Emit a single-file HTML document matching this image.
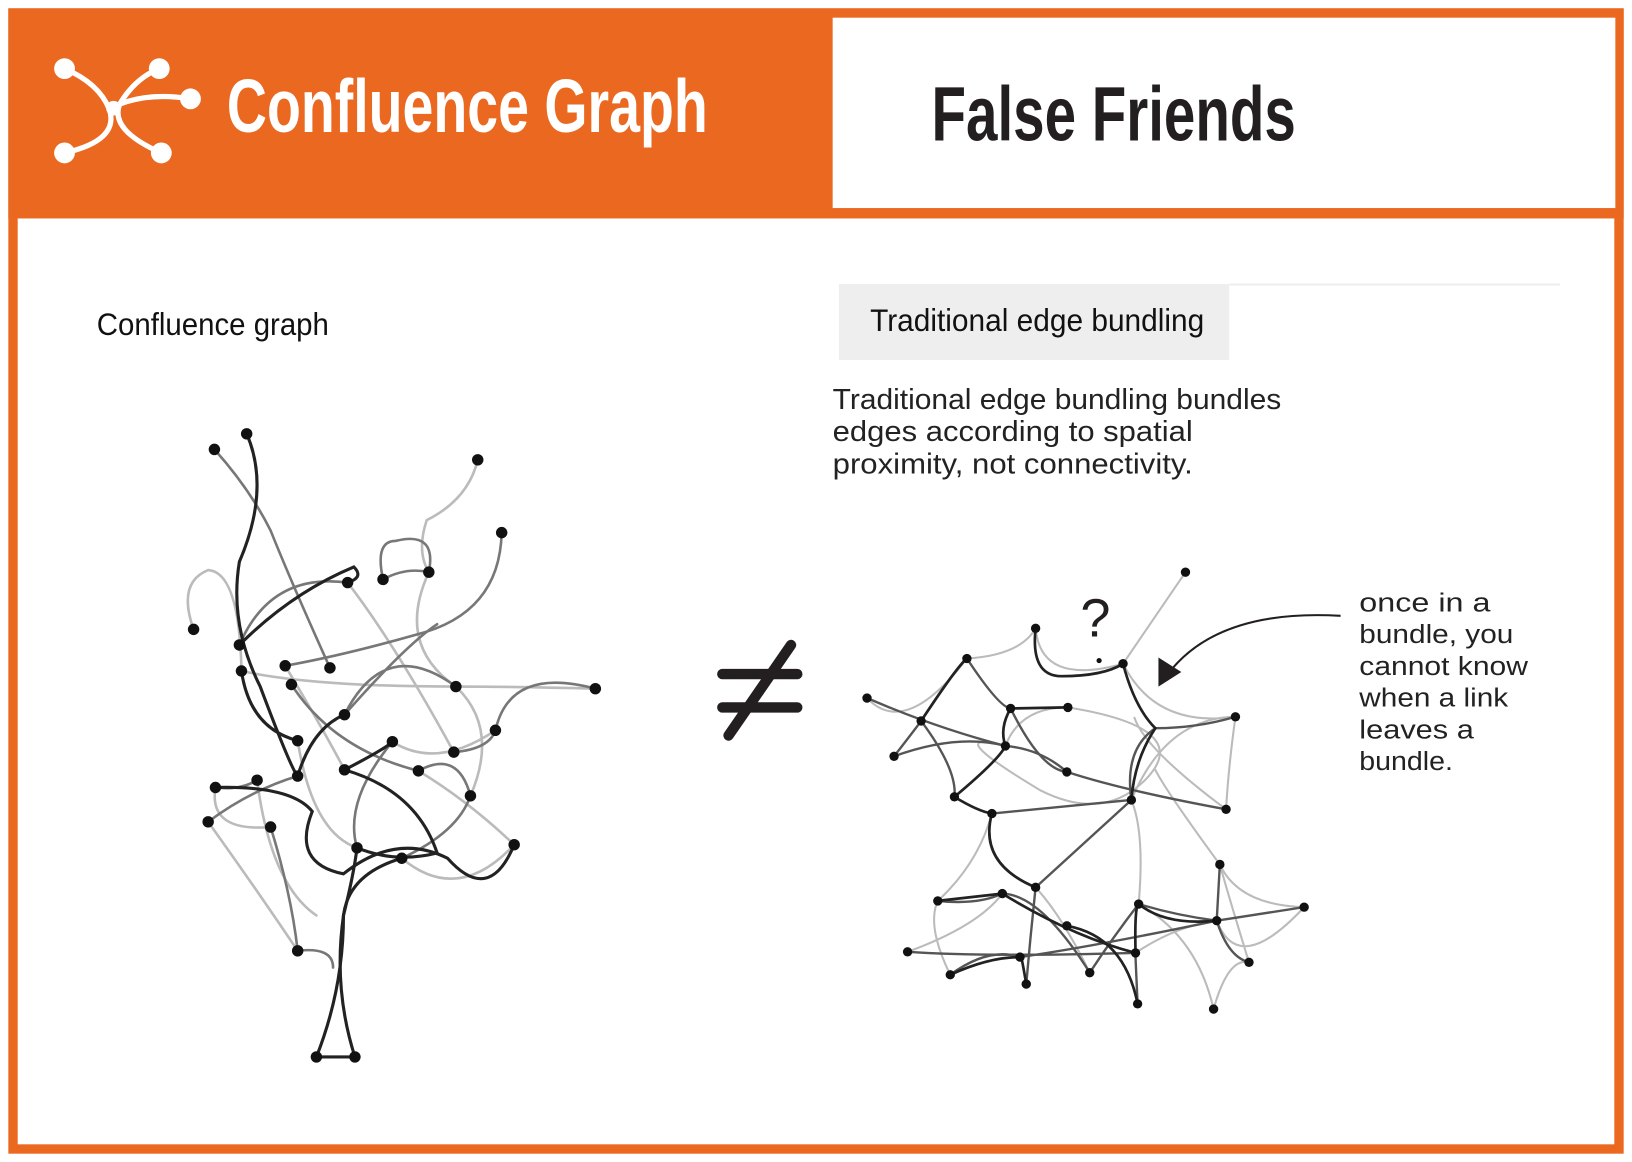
<!DOCTYPE html>
<html><head><meta charset="utf-8"><style>
html,body{margin:0;padding:0;background:#fff;}
svg{display:block}
</style></head><body>
<svg width="1632" height="1162" viewBox="0 0 1568 1117" preserveAspectRatio="none" xmlns="http://www.w3.org/2000/svg">
<rect x="0" y="0" width="1568" height="1117" fill="#fff"/>
<rect x="8" y="8" width="1552" height="202" fill="#ea681f"/>
<rect x="12.5" y="12.5" width="1543" height="1092" fill="none" stroke="#ea681f" stroke-width="9"/>
<rect x="800" y="17" width="752" height="183" fill="#fff"/>
<!-- icon -->
<g stroke="#fff" stroke-width="5" fill="none" stroke-linecap="round">
<path d="M62,66 Q95,80 105,105 Q115,135 62,147"/>
<path d="M153,66 Q130,75 115,100 Q105,125 155,147"/>
<path d="M108,103 Q140,88 183,95"/>
</g>
<g fill="#fff"><circle cx="62" cy="66" r="10"/><circle cx="153" cy="66" r="10"/><circle cx="183" cy="95" r="10"/><circle cx="62" cy="147" r="10"/><circle cx="155" cy="147" r="10"/><circle cx="109" cy="104" r="7"/></g>
<text x="218" y="127" font-family="Liberation Sans Narrow, Liberation Sans, sans-serif" font-weight="bold" font-size="72" fill="#fff" textLength="462" lengthAdjust="spacingAndGlyphs">Confluence Graph</text>
<text x="895" y="135" font-family="Liberation Sans Narrow, Liberation Sans, sans-serif" font-weight="bold" font-size="74" fill="#231f20" textLength="350" lengthAdjust="spacingAndGlyphs">False Friends</text>

<text x="93" y="322" font-family="Liberation Sans Narrow, Liberation Sans, sans-serif" font-size="30" fill="#111" textLength="223" lengthAdjust="spacingAndGlyphs">Confluence graph</text>
<rect x="806" y="273" width="375" height="73" fill="#eeeeee"/>
<line x1="1181" y1="273.5" x2="1499" y2="273.5" stroke="#eee" stroke-width="2"/>
<text x="836" y="318" font-family="Liberation Sans Narrow, Liberation Sans, sans-serif" font-size="30" fill="#111" textLength="321" lengthAdjust="spacingAndGlyphs">Traditional edge bundling</text>
<g font-family="Liberation Sans Narrow, Liberation Sans, sans-serif" font-size="28" fill="#222">
<text x="800" y="393" textLength="431" lengthAdjust="spacingAndGlyphs">Traditional edge bundling bundles</text>
<text x="800" y="424" textLength="346" lengthAdjust="spacingAndGlyphs">edges according to spatial</text>
<text x="800" y="455" textLength="346" lengthAdjust="spacingAndGlyphs">proximity, not connectivity.</text>
</g>
<g font-family="Liberation Sans Narrow, Liberation Sans, sans-serif" font-size="25" fill="#222">
<text x="1306" y="588" textLength="126" lengthAdjust="spacingAndGlyphs">once in a</text>
<text x="1306" y="618" textLength="148" lengthAdjust="spacingAndGlyphs">bundle, you</text>
<text x="1306" y="649" textLength="162" lengthAdjust="spacingAndGlyphs">cannot know</text>
<text x="1306" y="679" textLength="143" lengthAdjust="spacingAndGlyphs">when a link</text>
<text x="1306" y="710" textLength="110" lengthAdjust="spacingAndGlyphs">leaves a</text>
<text x="1306" y="740" textLength="90" lengthAdjust="spacingAndGlyphs">bundle.</text>
</g>
<!-- not equal -->
<g stroke="#231f20" stroke-width="10" stroke-linecap="round">
<line x1="694" y1="648" x2="766" y2="648"/><line x1="694" y1="680" x2="766" y2="680"/><line x1="700" y1="707" x2="760" y2="620"/>
</g>
<text x="1038" y="612" font-family="Liberation Sans Narrow, Liberation Sans, sans-serif" font-size="52" fill="#231f20">?</text>
<!-- arrow -->
<path d="M1288,592 Q1170,585 1122,648" fill="none" stroke="#231f20" stroke-width="2"/>
<path d="M1113,660 L1113,632 L1135,646 Z" fill="#231f20"/>

<!-- left graph -->
<g fill="none" stroke-linecap="round">
<g stroke="#bbb" stroke-width="2.5">
<path d="M459,442 Q450,480 410,500 Q400,530 412,550"/>
<path d="M186,605 Q170,560 200,548 Q230,550 232,645"/>
<path d="M232,645 Q300,660 438,660"/>
<path d="M438,660 Q500,660 572,662"/>
<path d="M274,640 Q310,700 331,740"/>
<path d="M207,757 Q200,800 260,795"/>
<path d="M200,790 Q250,860 286,914"/>
<path d="M386,825 Q440,870 494,812"/>
<path d="M412,550 Q380,620 438,660 Q480,700 452,765"/>
<path d="M286,712 Q300,800 343,815"/>
<path d="M377,713 Q420,740 476,702"/>
<path d="M334,560 Q380,620 436,723"/>
<path d="M402,741 Q450,770 494,812"/>
<path d="M247,750 Q260,850 304,880"/>
</g>
<g stroke="#777" stroke-width="2.5">
<path d="M206,432 Q240,470 260,510 Q280,560 317,642"/>
<path d="M482,512 Q480,590 400,610 Q330,630 274,640"/>
<path d="M368,557 Q360,520 380,520 Q420,510 412,550"/>
<path d="M368,557 Q390,545 412,550"/>
<path d="M230,620 Q260,550 334,560"/>
<path d="M331,687 Q370,610 438,660"/>
<path d="M331,687 Q390,620 420,600"/>
<path d="M436,723 Q470,720 476,702 Q490,640 572,662"/>
<path d="M280,658 Q320,720 402,741"/>
<path d="M207,757 Q230,760 247,750"/>
<path d="M452,765 Q440,800 386,825"/>
<path d="M200,790 Q240,760 286,746"/>
<path d="M260,795 Q280,860 286,914 Q320,910 320,930"/>
<path d="M343,815 Q330,770 377,713"/>
<path d="M402,741 Q440,720 452,765"/>
</g>
<g stroke="#222" stroke-width="3">
<path d="M237,417 Q260,470 230,540 Q220,600 250,660 Q280,740 286,746"/>
<path d="M230,620 Q280,570 340,545 Q350,555 334,560"/>
<path d="M232,645 Q240,700 286,712"/>
<path d="M207,757 Q280,755 300,780 Q280,830 330,840 Q380,800 430,825 Q470,870 494,812"/>
<path d="M331,740 Q400,760 420,820 Q380,830 343,815"/>
<path d="M331,740 Q370,720 377,713"/>
<path d="M304,1016 Q330,950 330,880 Q335,840 386,825"/>
<path d="M341,1016 Q320,950 330,880 Q340,840 343,815"/>
<path d="M304,1016 L341,1016"/>
<path d="M331,687 Q300,700 286,746"/>
</g>
</g>
<g fill="#111">
<circle cx="206" cy="432" r="5.5"/><circle cx="237" cy="417" r="5.5"/><circle cx="459" cy="442" r="5.5"/><circle cx="482" cy="512" r="5.5"/><circle cx="334" cy="560" r="5.5"/><circle cx="368" cy="557" r="5.5"/><circle cx="412" cy="550" r="5.5"/><circle cx="186" cy="605" r="5.5"/><circle cx="230" cy="620" r="5.5"/><circle cx="232" cy="645" r="5.5"/><circle cx="274" cy="640" r="5.5"/><circle cx="317" cy="642" r="5.5"/><circle cx="280" cy="658" r="5.5"/><circle cx="438" cy="660" r="5.5"/><circle cx="572" cy="662" r="5.5"/><circle cx="331" cy="687" r="5.5"/><circle cx="286" cy="712" r="5.5"/><circle cx="377" cy="713" r="5.5"/><circle cx="436" cy="723" r="5.5"/><circle cx="476" cy="702" r="5.5"/><circle cx="402" cy="741" r="5.5"/><circle cx="331" cy="740" r="5.5"/><circle cx="286" cy="746" r="5.5"/><circle cx="247" cy="750" r="5.5"/><circle cx="207" cy="757" r="5.5"/><circle cx="452" cy="765" r="5.5"/><circle cx="200" cy="790" r="5.5"/><circle cx="260" cy="795" r="5.5"/><circle cx="343" cy="815" r="5.5"/><circle cx="386" cy="825" r="5.5"/><circle cx="494" cy="812" r="5.5"/><circle cx="286" cy="914" r="5.5"/><circle cx="304" cy="1016" r="5.5"/><circle cx="341" cy="1016" r="5.5"/>
</g>

<!-- right graph -->
<g fill="none" stroke-linecap="round">
<g stroke="#bbb" stroke-width="2">
<line x1="1139" y1="550" x2="1079" y2="638"/>
<path d="M929,633 Q980,630 995,604 Q1000,660 1079,638"/>
<path d="M833,671 Q870,710 929,633"/>
<path d="M1079,638 Q1110,700 1187,689"/>
<path d="M1187,689 Q1180,740 1178,778"/>
<path d="M1087,769 Q1120,690 1187,689"/>
<path d="M966,717 Q980,680 1026,680 Q1150,700 1100,750 Q1060,790 1000,760 Q900,700 966,717"/>
<path d="M1178,778 Q1100,720 1090,690"/>
<path d="M1172,831 Q1120,760 1110,740"/>
<path d="M901,866 Q940,830 953,782"/>
<path d="M1094,869 Q1100,800 1087,769"/>
<path d="M1169,885 Q1190,940 1253,872"/>
<path d="M1166,970 Q1180,920 1200,925"/>
<path d="M872,915 Q940,890 963,859"/>
<path d="M913,937 Q890,890 901,866"/>
<path d="M1047,935 Q1020,880 995,853"/>
<path d="M1091,916 Q1130,890 1169,885"/>
<path d="M1172,831 Q1180,860 1200,925"/>
<path d="M1172,831 Q1190,870 1253,872"/>
<path d="M1094,869 Q1150,900 1166,970"/>
</g>
<g stroke="#555" stroke-width="2.3">
<path d="M833,671 Q900,700 966,717"/>
<path d="M929,633 Q960,680 971,681"/>
<path d="M885,693 Q920,740 917,766"/>
<path d="M859,727 Q920,705 966,717"/>
<path d="M859,727 Q880,700 885,693"/>
<path d="M966,717 Q1000,720 1025,742 Q1080,760 1178,778"/>
<path d="M1187,689 Q1150,700 1110,700"/>
<path d="M953,782 L1087,769"/>
<path d="M995,853 L1087,769"/>
<path d="M1087,769 Q1080,720 1110,700"/>
<path d="M901,866 Q940,870 963,859 Q1000,860 1047,935"/>
<path d="M872,915 Q940,920 1091,916"/>
<path d="M913,937 Q950,910 980,920 Q1050,910 1169,885 L1253,872"/>
<path d="M1094,869 Q1130,880 1169,885 Q1180,920 1200,925"/>
<path d="M986,946 Q990,900 995,853"/>
<path d="M1093,965 Q1090,900 1091,916"/>
<path d="M1169,885 L1172,831"/>
<path d="M1025,742 Q1000,740 971,681"/>
<path d="M1047,935 Q1070,900 1094,869"/>
</g>
<g stroke="#222" stroke-width="2.6">
<path d="M885,693 Q920,640 929,633"/>
<path d="M995,604 Q990,650 1020,650 Q1060,650 1079,638"/>
<path d="M971,681 L1026,680"/>
<path d="M1079,638 Q1090,680 1110,700"/>
<path d="M966,717 Q960,700 971,681"/>
<path d="M917,766 Q960,730 966,717"/>
<path d="M917,766 Q940,780 953,782 Q940,830 995,853"/>
<path d="M1087,769 Q1090,730 1110,700"/>
<path d="M901,866 L963,859"/>
<path d="M963,859 Q1030,900 1091,916 Q1090,870 1094,869"/>
<path d="M1094,869 Q1120,890 1169,885"/>
<path d="M913,937 Q950,920 980,920"/>
<path d="M1093,965 Q1080,900 1025,890"/>
<path d="M986,946 Q980,910 980,920"/>
</g>
</g>
<g fill="#111">
<circle cx="1139" cy="550" r="4.5"/><circle cx="995" cy="604" r="4.5"/><circle cx="1079" cy="638" r="4.5"/><circle cx="1056" cy="635" r="2.5"/><circle cx="929" cy="633" r="4.5"/><circle cx="833" cy="671" r="4.5"/><circle cx="885" cy="693" r="4.5"/><circle cx="971" cy="681" r="4.5"/><circle cx="1026" cy="680" r="4.5"/><circle cx="1187" cy="689" r="4.5"/><circle cx="859" cy="727" r="4.5"/><circle cx="966" cy="717" r="4.5"/><circle cx="1025" cy="742" r="4.5"/><circle cx="917" cy="766" r="4.5"/><circle cx="1087" cy="769" r="4.5"/><circle cx="953" cy="782" r="4.5"/><circle cx="1178" cy="778" r="4.5"/><circle cx="1172" cy="831" r="4.5"/><circle cx="901" cy="866" r="4.5"/><circle cx="963" cy="859" r="4.5"/><circle cx="995" cy="853" r="4.5"/><circle cx="1094" cy="869" r="4.5"/><circle cx="1169" cy="885" r="4.5"/><circle cx="1253" cy="872" r="4.5"/><circle cx="872" cy="915" r="4.5"/><circle cx="913" cy="937" r="4.5"/><circle cx="980" cy="920" r="4.5"/><circle cx="1025" cy="890" r="4.5"/><circle cx="1047" cy="935" r="4.5"/><circle cx="1091" cy="916" r="4.5"/><circle cx="1200" cy="925" r="4.5"/><circle cx="986" cy="946" r="4.5"/><circle cx="1093" cy="965" r="4.5"/><circle cx="1166" cy="970" r="4.5"/>
</g>
</svg>
</body></html>
